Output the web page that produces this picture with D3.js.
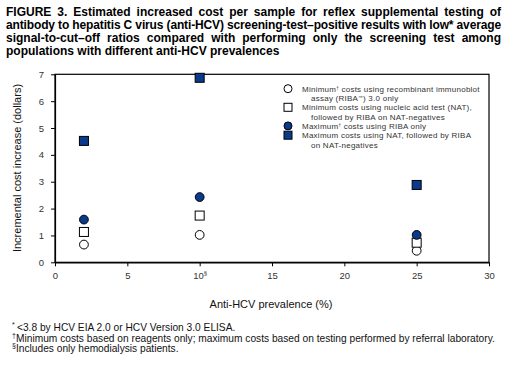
<!DOCTYPE html>
<html>
<head>
<meta charset="utf-8">
<script src="https://cdn.jsdelivr.net/npm/d3@7/dist/d3.min.js"></script>
<style>
  html, body { margin: 0; padding: 0; background: #fff; }
  svg { display: block; font-family: Arial, "Liberation Sans", sans-serif; }
</style>
</head>
<body>
<svg id="chart" width="507" height="375"></svg>
<script>
// ---- Data ----
const prevalence = [2, 10, 25];
const minRIBA = [0.66, 1.02, 0.43];
const minNAT = [1.13, 1.74, 0.73];
const maxRIBA = [1.59, 2.43, 1.02];
const maxNAT = [4.52, 6.87, 2.88];
const xTicks = [0, 5, 10, 15, 20, 25, 30];
const yTicks = [0, 1, 2, 3, 4, 5, 6, 7];
const titleLines = [
  "FIGURE 3. Estimated increased cost per sample for reflex supplemental testing of",
  "antibody to hepatitis C virus (anti-HCV) screening-test\u2013positive results with low* average",
  "signal-to-cut\u2013off ratios compared with performing only the screening test among",
  "populations with different anti-HCV prevalences"
];
const footnotes = [
  ["*", "<3.8 by HCV EIA 2.0 or HCV Version 3.0 ELISA."],
  ["\u2020", "Minimum costs based on reagents only; maximum costs based on testing performed by referral laboratory."],
  ["\u00a7", "Includes only hemodialysis patients."]
];

const svg = d3.select("#chart");
const blue = "#0a3a8c";

// ---- Title (justified lines) ----
const titleG = svg.append("g");
titleLines.forEach((line, i) => {
  const t = titleG.append("text")
    .attr("x", 6).attr("y", 16 + i * 13)
    .attr("font-size", 12).attr("font-weight", "bold").attr("fill", "#000")
    .text(line);
  if (i < 3) {
    const w = t.node().getComputedTextLength();
    if (w < 495) {
      const spaces = (line.match(/ /g) || []).length;
      t.attr("word-spacing", (495 - w) / spaces);
    } else {
      t.attr("letter-spacing", (495 - w) / line.length);
    }
  }
});

// ---- Scales ----
const x0 = 55, x1 = 489, y0 = 262.3, y1 = 74.3;
const x = d3.scaleLinear().domain([0, 30]).range([x0, x1]);
const y = d3.scaleLinear().domain([0, 7]).range([y0, y1]);

// frame
svg.append("rect").attr("x", x0).attr("y", y1).attr("width", x1 - x0).attr("height", y0 - y1)
  .attr("fill", "none").attr("stroke", "#000").attr("stroke-width", 1.2);

// axes
const xAxis = d3.axisBottom(x).tickValues(xTicks).tickSizeInner(4).tickSizeOuter(0).tickPadding(6)
  .tickFormat(d3.format("d"));
const gx = svg.append("g").attr("transform", `translate(0,${y0})`).call(xAxis);
const yAxis = d3.axisLeft(y).tickValues(yTicks).tickSizeInner(4).tickSizeOuter(0).tickPadding(7)
  .tickFormat(d3.format("d"));
const gy = svg.append("g").attr("transform", `translate(${x0},0)`).call(yAxis);
[gx, gy].forEach(g => {
  g.select(".domain").attr("stroke", "#000").attr("stroke-width", 1.2);
  g.selectAll(".tick line").attr("stroke", "#000").attr("stroke-width", 1);
  g.selectAll(".tick text").attr("font-size", 9.5).attr("fill", "#333")
    .attr("font-family", "Arial, 'Liberation Sans', sans-serif");
});
gx.selectAll(".tick text").filter(d => d === 10).append("tspan")
  .attr("font-size", 6).attr("dy", -4).text("\u00a7");

// axis titles
svg.append("text").attr("x", 271).attr("y", 308).attr("text-anchor", "middle")
  .attr("font-size", 11).attr("fill", "#111").text("Anti-HCV prevalence (%)");
svg.append("text").attr("transform", "translate(21,168) rotate(-90)").attr("text-anchor", "middle")
  .attr("font-size", 11).attr("fill", "#111").text("Incremental cost increase (dollars)");

// ---- Points ----
const r = 4.4, s = 9;
const drawCircles = (vals, fill) => svg.append("g").selectAll("circle")
  .data(vals.map((v, i) => [prevalence[i], v])).join("circle")
  .attr("cx", d => x(d[0])).attr("cy", d => y(d[1])).attr("r", r)
  .attr("fill", fill).attr("stroke", "#000").attr("stroke-width", 1);
const drawSquares = (vals, fill) => svg.append("g").selectAll("rect")
  .data(vals.map((v, i) => [prevalence[i], v])).join("rect")
  .attr("x", d => x(d[0]) - s / 2).attr("y", d => y(d[1]) - s / 2)
  .attr("width", s).attr("height", s)
  .attr("fill", fill).attr("stroke", "#000").attr("stroke-width", 1);
drawCircles(minRIBA, "#fff");
drawSquares(minNAT, "#fff");
drawCircles(maxRIBA, blue);
drawSquares(maxNAT, blue);

// ---- Legend ----
const lg = svg.append("g").attr("font-size", 8).attr("letter-spacing", 0.25).attr("fill", "#333");
const legendItems = [
  { shape: "circle", fill: "#fff", ys: [88.7, 98], lines: [
      [["Minimum", 0], ["\u2020", 1], [" costs using recombinant immunoblot", 0]],
      [["assay (RIBA", 0], ["\u2122", 1], [") 3.0 only", 0]] ] },
  { shape: "rect", fill: "#fff", ys: [107.3, 116.6], lines: [
      [["Minimum costs using nucleic acid test (NAT),", 0]],
      [["followed by RIBA on NAT-negatives", 0]] ] },
  { shape: "circle", fill: blue, ys: [125.9], lines: [
      [["Maximum", 0], ["\u2020", 1], [" costs using RIBA only", 0]] ] },
  { shape: "rect", fill: blue, ys: [135.2, 144.5], lines: [
      [["Maximum costs using NAT, followed by RIBA", 0]],
      [["on NAT-negatives", 0]] ] }
];
legendItems.forEach(item => {
  const cy = item.ys[0];
  if (item.shape === "circle") {
    lg.append("circle").attr("cx", 288).attr("cy", cy).attr("r", 4)
      .attr("fill", item.fill).attr("stroke", "#000").attr("stroke-width", 1);
  } else {
    lg.append("rect").attr("x", 284).attr("y", cy - 4).attr("width", 8).attr("height", 8)
      .attr("fill", item.fill).attr("stroke", "#000").attr("stroke-width", 1);
  }
  item.lines.forEach((parts, li) => {
    const t = lg.append("text").attr("x", li === 0 ? 302 : 311).attr("y", item.ys[li] + 3);
    parts.forEach(([txt, sup]) => {
      const sp = t.append("tspan").text(txt);
      if (sup) sp.attr("font-size", 4.5).attr("baseline-shift", "super");
    });
  });
});

// ---- Footnotes ----
const fg = svg.append("g").attr("font-size", 10.2).attr("fill", "#111");
footnotes.forEach(([mark, txt], i) => {
  const by = 331 + i * 10.5;
  fg.append("text").attr("x", 12).attr("y", by - 4).attr("font-size", 7).text(mark);
  fg.append("text").attr("x", i === 0 ? 17 : 16).attr("y", by).text(txt);
});
</script>
</body>
</html>
